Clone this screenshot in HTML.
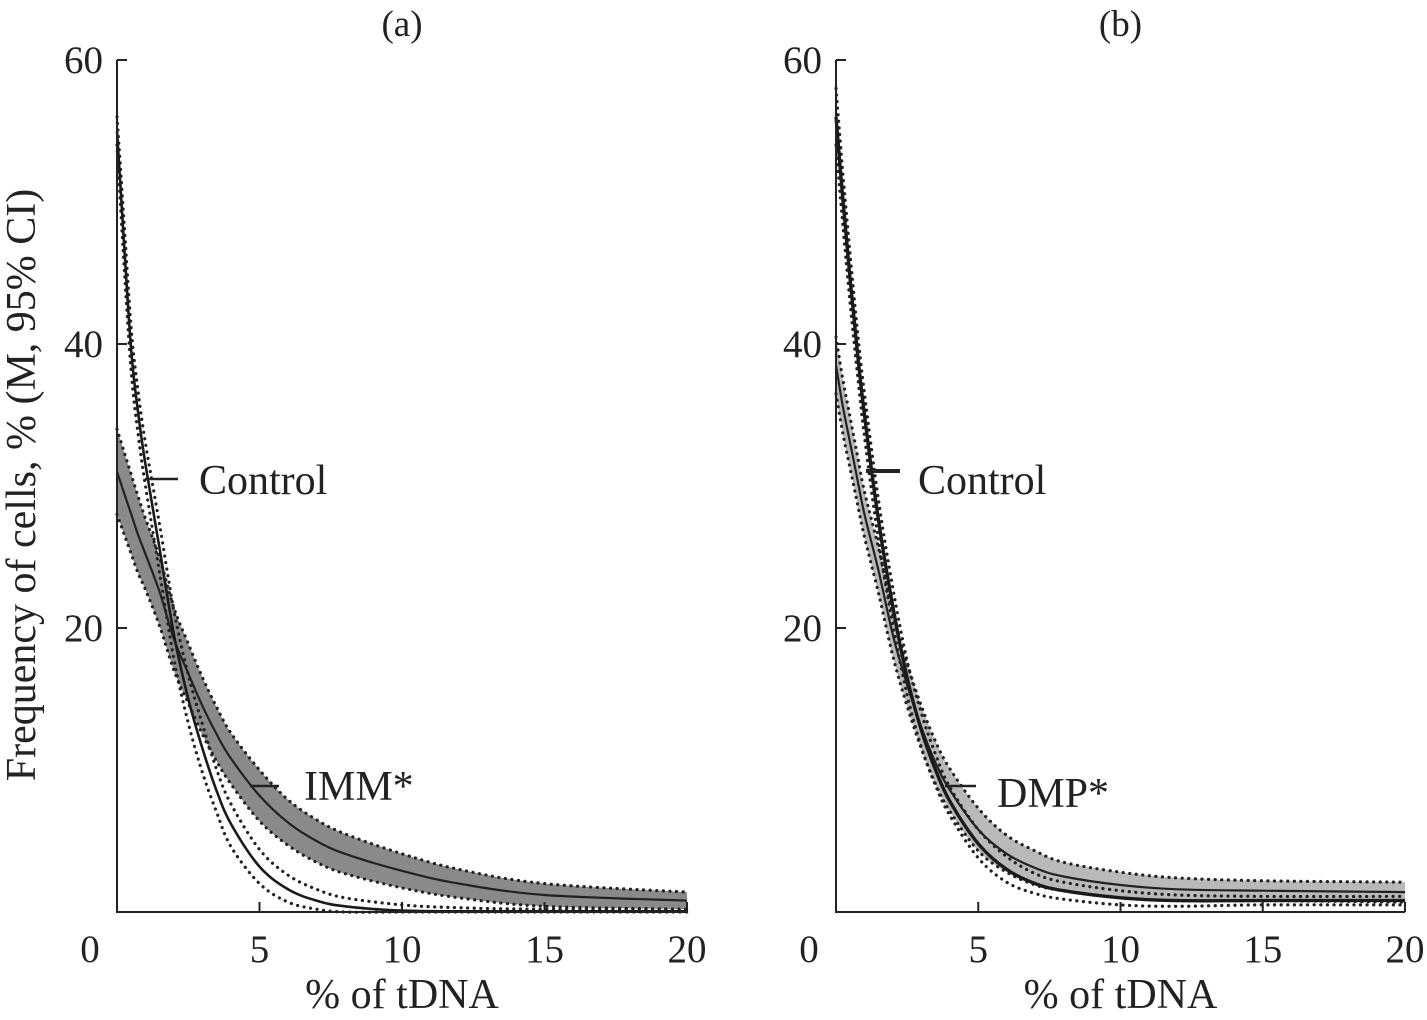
<!DOCTYPE html>
<html><head><meta charset="utf-8"><style>
html,body{margin:0;padding:0;background:#fff}
svg{display:block;font-family:"Liberation Serif",serif}
</style></head><body>
<svg id="chart" width="1427" height="1020" viewBox="0 0 1427 1020" xmlns="http://www.w3.org/2000/svg"></svg>
<script>
const xs = [0,0.25,0.5,0.75,1,1.5,2,2.5,3,3.5,4,5,6,7,8,10,12,15,20];
// Panel (a)
const ctrlA = [55,47,39.5,35,31.5,25.5,19.5,15,11.5,8.5,6.2,3.2,1.6,0.8,0.4,0.1,0.05,0.05,0.05];
const ctrlALo = [54,45.5,38,33.5,30,23.8,17.8,13.3,9.8,7,4.6,2,0.7,0.2,0,0,0,0,0];
const ctrlAHi = [56,48.5,41,36.5,33,27.2,21.2,16.7,13.2,10,7.6,4.4,2.6,1.6,1.0,0.5,0.3,0.2,0.2];
const immA = [31,29.5,28,26.5,25.2,22.5,19.2,16.8,14.5,12.5,10.8,8.2,6.3,5,4.1,2.9,2,1.2,0.8];
const immALo = [28,26.6,25.2,23.8,22.7,20.1,17,14.7,12.5,10.6,9,6.4,4.7,3.5,2.7,1.7,1,0.4,0.2];
const immAHi = [34,32.4,30.8,29.2,27.7,24.9,21.4,18.9,16.5,14.4,12.6,10,7.9,6.5,5.5,4.1,3,2,1.4];
// Panel (b)
const ctrlB = [56,50,44.5,39.5,35,27.5,21.5,16.5,12.8,10,7.8,4.8,3,2,1.5,1,0.8,0.8,0.8];
const ctrlBLo = [54,48.2,42.8,38,33.5,26.1,20.2,15.3,11.6,8.9,6.8,3.8,2.1,1.3,0.9,0.5,0.4,0.5,0.5];
const ctrlBHi = [58,51.8,46.2,41,36.5,28.9,22.8,17.7,14,11.1,8.8,5.8,3.9,2.7,2.1,1.5,1.2,1.1,1.1];
const dmpB = [38.5,35.5,33,30.5,28,24,19.5,16,13,10.5,8.6,5.8,4.1,3.1,2.5,1.9,1.6,1.5,1.4];
const dmpBLo = [36.5,33.6,31.2,28.8,26.4,22.4,18,14.5,11.5,9,7.1,4.3,2.8,1.9,1.5,1,0.8,0.8,0.7];
const dmpBHi = [40.5,37.4,34.8,32.2,29.6,25.6,21,17.5,14.5,12,10.1,7.3,5.4,4.3,3.5,2.8,2.4,2.2,2.1];
const xTicks = [0,5,10,15,20];
const yTicks = [20,40,60];

const NS = "http://www.w3.org/2000/svg";
const svg = document.getElementById('chart');
function mk(tag, attrs, parent, text){
  const e = document.createElementNS(NS, tag);
  for (const k in attrs) e.setAttribute(k, attrs[k]);
  if (text !== undefined) e.textContent = text;
  (parent||svg).appendChild(e);
  return e;
}
const Y0 = 912, YS = (912-60)/60;
function yScale(v){ return Y0 - v*YS; }
function smooth(P, move){
  let d = move ? 'M'+P[0][0].toFixed(1)+','+P[0][1].toFixed(1) : 'L'+P[0][0].toFixed(1)+','+P[0][1].toFixed(1);
  for (let i=0;i<P.length-1;i++){
    const p0=P[Math.max(0,i-1)], p1=P[i], p2=P[i+1], p3=P[Math.min(P.length-1,i+2)];
    const c1=[p1[0]+(p2[0]-p0[0])/6, p1[1]+(p2[1]-p0[1])/6];
    const c2=[p2[0]-(p3[0]-p1[0])/6, p2[1]-(p3[1]-p1[1])/6];
    d += ` C${c1[0].toFixed(1)},${c1[1].toFixed(1)} ${c2[0].toFixed(1)},${c2[1].toFixed(1)} ${p2[0].toFixed(1)},${p2[1].toFixed(1)}`;
  }
  return d;
}

function panel(id, x0, x1, title, c, cLo, cHi, t, tLo, tHi, bandColor, tName, lbl){
  const g = mk('g', {}, svg);
  
  
  const XS = (x1 - x0) / 20;
  const xScale = v => x0 + v*XS;
  const P = arr => xs.map((x,i)=>[xScale(x), yScale(arr[i])]);
  const key = tName.toLowerCase().replace('*','');
  const bandD = smooth(P(tHi), true) + ' ' + smooth(P(tLo).reverse(), false) + ' Z';
  const band = mk('path', {d: bandD, fill: bandColor, stroke:'none'}, g);
  
  
  const dot = {fill:'none', stroke:'#222', 'stroke-width':3.2, 'stroke-dasharray':'0.1 6.5', 'stroke-linecap':'round'};
  [[tLo,'lower'],[tHi,'upper']].forEach(([arr,n])=>{
    const p = mk('path', Object.assign({d: smooth(P(arr), true)}, dot), g);
    
    
  });
  [[cLo,'lower'],[cHi,'upper']].forEach(([arr,n])=>{
    const p = mk('path', Object.assign({d: smooth(P(arr), true)}, dot), g);
    
    
  });
  const tl = mk('path', {d: smooth(P(t), true), fill:'none', stroke:'#222', 'stroke-width':2.2}, g);
  
  
  const cl = mk('path', {d: smooth(P(c), true), fill:'none', stroke:'#1a1a1a', 'stroke-width':id==='b'?3.4:2.6}, g);
  
  
  const ax = mk('path', {d:`M${x0},${yScale(60)} L${x0},${Y0} L${x1},${Y0}`, fill:'none', stroke:'#222', 'stroke-width':2}, g);
  
  
  yTicks.forEach(v=>{
    const tk = mk('line', {x1:x0, x2:x0+10, y1:yScale(v), y2:yScale(v), stroke:'#222','stroke-width':2}, g);
    
    
    const tt = mk('text', {x:x0-14, y:yScale(v)+13, 'text-anchor':'end', 'font-size':39, fill:'#222'}, g, String(v));
    
    
  });
  xTicks.forEach(v=>{
    if (v>0){
      const tk = mk('line', {x1:xScale(v), x2:xScale(v), y1:Y0, y2:Y0-10, stroke:'#222','stroke-width':2}, g);
      
      
    }
    const tx = v===0 ? x0-27 : xScale(v);
    const tt = mk('text', {x:tx, y:962, 'text-anchor':'middle', 'font-size':39, fill:'#222'}, g, String(v));
    
    
  });
  const xt = mk('text', {x:(x0+x1)/2, y:1008, 'text-anchor':'middle', 'font-size':42, fill:'#222'}, g, '% of tDNA');
  
  
  const ti = mk('text', {x:(x0+x1)/2, y:36, 'text-anchor':'middle', 'font-size':37, fill:'#222'}, g, title);
  
  
  lbl.forEach(L=>{
    const ln = mk('line', {x1:L.lx1, x2:L.lx2, y1:L.ly, y2:L.ly, stroke:'#222', 'stroke-width':L.w}, g);
    
    
    const tx = mk('text', {x:L.tx, y:L.ty, 'font-size':42, fill:'#222'}, g, L.text);
    
    
  });
}

panel('a', 117, 687, '(a)', ctrlA, ctrlALo, ctrlAHi, immA, immALo, immAHi, '#8a8a8a', 'IMM*', [
  {lx1:145, lx2:178, ly:479, w:2.5, tx:199, ty:494, text:'Control', name:'control'},
  {lx1:250, lx2:279, ly:786, w:2.5, tx:304, ty:800, text:'IMM*', name:'imm'}
]);
panel('b', 836, 1405, '(b)', ctrlB, ctrlBLo, ctrlBHi, dmpB, dmpBLo, dmpBHi, '#b9b9b9', 'DMP*', [
  {lx1:866, lx2:900, ly:471, w:4, tx:918, ty:494, text:'Control', name:'control'},
  {lx1:945, lx2:976, ly:786, w:2.5, tx:997, ty:807, text:'DMP*', name:'dmp'}
]);

const yt = mk('text', {x:0, y:0, 'text-anchor':'middle', 'font-size':42, fill:'#222', transform:'translate(35,485) rotate(-90)'}, svg, 'Frequency of cells, % (M, 95% CI)');


</script>
</body></html>
